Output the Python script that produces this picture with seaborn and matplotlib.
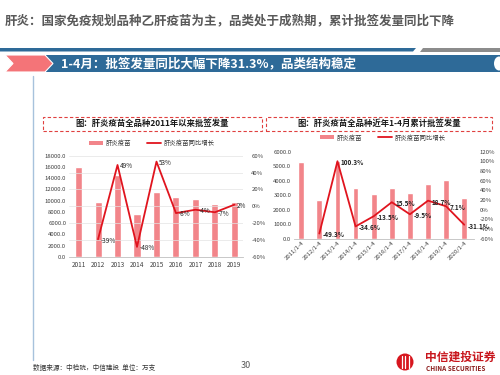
import matplotlib
matplotlib.use("Agg")
import matplotlib.pyplot as plt
import matplotlib.patches as mpatches
from matplotlib.lines import Line2D
from matplotlib.ticker import FuncFormatter, MultipleLocator
import seaborn as sns

sns.set_theme(style="white")
plt.rcParams['font.family'] = ['Noto Sans CJK SC', 'DejaVu Sans']
plt.rcParams['axes.unicode_minus'] = False

# ---------------- data ----------------
years = ["2011", "2012", "2013", "2014", "2015", "2016", "2017", "2018", "2019"]
annual_doses = [16000, 9760, 14540, 7560, 11570, 10640, 10220, 9500, 9690]
annual_growth_years = ["2012", "2013", "2014", "2015", "2016", "2017", "2018", "2019"]
annual_growth = [-39, 49, -48, 53, -8, -4, -7, 2]

periods = ["2011/1-4", "2012/1-4", "2013/1-4", "2014/1-4", "2015/1-4",
           "2016/1-4", "2017/1-4", "2018/1-4", "2019/1-4", "2020/1-4"]
period_doses = [5300, 2690, 5390, 3525, 3050, 3520, 3185, 3780, 4050, 2790]
period_growth_labels = ["2012/1-4", "2013/1-4", "2014/1-4", "2015/1-4",
                        "2016/1-4", "2017/1-4", "2018/1-4", "2019/1-4", "2020/1-4"]
period_growth = [-49.3, 100.3, -34.6, -13.5, 15.5, -9.5, 18.7, 7.1, -31.1]

page_title = "肝炎：国家免疫规划品种乙肝疫苗为主，品类处于成熟期，累计批签发量同比下降"
banner_text = "1-4月：批签发量同比大幅下降31.3%，品类结构稳定"
left_title = "图：肝炎疫苗全品种2011年以来批签发量"
right_title = "图：肝炎疫苗全品种近年1-4月累计批签发量"
bar_name = "肝炎疫苗"
left_line_name = "肝炎疫苗同比增长"
right_line_name = "肝炎疫苗同比增长"
source_text = "数据来源：中检院，中信建投  单位：万支"
page_no = "30"

# ---------------- style ----------------
BAR = "#F2858A"
LINE = "#E0141E"
BLUE = "#2E6A98"
PINK = "#F47478"
W, H = 500, 375

fig = plt.figure(figsize=(5, 3.75), dpi=100)
fig.patch.set_facecolor("white")


def fx(x):
    return x / W


def fy(y):
    return 1 - y / H


def poly(points, color, **kw):
    p = mpatches.Polygon([(fx(x), fy(y)) for x, y in points], closed=True,
                         transform=fig.transFigure, facecolor=color,
                         edgecolor=kw.pop("edgecolor", "none"), **kw)
    fig.patches.append(p)
    return p


# header
fig.text(fx(5), fy(21), page_title, fontsize=9.0, color="#595959",
         fontweight="bold", va="center", ha="left")
poly([(0, 48), (416, 48), (413, 51.5), (0, 51.5)], BLUE)
poly([(423, 48), (500, 48), (500, 51.5), (420, 51.5)], "#8C8C8C")
poly([(46, 55), (500, 55), (500, 72), (46, 72)], BLUE)
fig.patches.append(mpatches.Ellipse((fx(499), fy(63.5)), 10 / W, 14 / H,
                                    transform=fig.transFigure, facecolor="white",
                                    edgecolor="none"))
poly([(5, 55), (45, 55), (53, 63.5), (45, 72), (5, 72), (13, 63.5)], PINK,
     edgecolor="white", linewidth=0.8)
fig.text(fx(61), fy(63.8), banner_text, fontsize=9, color="white",
         fontweight="bold", va="center", ha="left")

# left vertical guide line
fig.add_artist(Line2D([fx(33), fx(33)], [fy(76), fy(360)], transform=fig.transFigure,
                      color="#A7C2DC", linewidth=1.0))

# chart title boxes
for (x0, x1, txt) in [(43, 262, left_title), (266, 492, right_title)]:
    fig.patches.append(mpatches.Rectangle((fx(x0), fy(130.5)), (x1 - x0) / W, 14 / H,
                                          transform=fig.transFigure, facecolor="white",
                                          edgecolor="#E0403F", linewidth=0.8,
                                          linestyle=(0, (3, 2))))
    fig.text(fx((x0 + x1) / 2), fy(123.5), txt, fontsize=6, fontweight="bold",
             color="#1a1a1a", ha="center", va="center")

# ---------------- left chart ----------------
ax1 = fig.add_axes([fx(69), fy(257), (243 - 69) / W, (257 - 155.7) / H])
sns.barplot(x=years, y=annual_doses, ax=ax1, color=BAR, width=0.36, saturation=1)
ax1.set_ylim(0, 18000)
ax1.yaxis.set_major_locator(MultipleLocator(2000))
ax1.yaxis.set_major_formatter(FuncFormatter(lambda v, p: f"{v:.1f}"))
ax2 = ax1.twinx()
sns.pointplot(x=annual_growth_years, y=annual_growth, order=years, ax=ax2,
              color=LINE, markers="", linestyles="-", linewidth=1.3, errorbar=None)
ax2.set_ylim(-60, 60)
ax2.yaxis.set_major_locator(MultipleLocator(20))
ax2.yaxis.set_major_formatter(FuncFormatter(lambda v, p: f"{v:.0f}%"))
ax2.grid(axis="y", color="#E3E3E3", linewidth=0.5)
ax1.set_xlim(-0.49, 8.44)
for lab, v in zip(annual_growth_years, annual_growth):
    i = years.index(lab)
    ax2.annotate(f"{v:.0f}%", (i, v), xytext=(2, -1), textcoords="offset points",
                 fontsize=4.6, color="#222222", ha="left", va="center")

# ---------------- right chart ----------------
ax3 = fig.add_axes([fx(294), fy(238.7), 180 / W, (238.7 - 151.7) / H])
sns.barplot(x=periods, y=period_doses, ax=ax3, color=BAR, width=0.32, saturation=1)
ax3.set_ylim(0, 6000)
ax3.yaxis.set_major_locator(MultipleLocator(1000))
ax3.yaxis.set_major_formatter(FuncFormatter(lambda v, p: f"{v:.1f}"))
ax4 = ax3.twinx()
sns.pointplot(x=period_growth_labels, y=period_growth, order=periods, ax=ax4,
              color=LINE, markers="", linestyles="-", linewidth=1.3, errorbar=None)
ax4.set_ylim(-60, 120)
ax4.yaxis.set_major_locator(MultipleLocator(20))
ax4.yaxis.set_major_formatter(FuncFormatter(lambda v, p: f"{v:.0f}%"))
ax3.set_xlim(-0.4, 9.54)
for lab, v in zip(period_growth_labels, period_growth):
    i = periods.index(lab)
    ax4.annotate(f"{v:.1f}%", (i, v), xytext=(2.5, -1), textcoords="offset points",
                 fontsize=4.6, color="#222222", ha="left", va="center",
                 fontweight="bold")

# common axes styling
for ax in (ax1, ax2, ax3, ax4):
    ax.set_xlabel("")
    ax.set_ylabel("")
    for s in ax.spines.values():
        s.set_visible(False)
    ax.tick_params(axis="both", length=0, labelsize=4.3, colors="#404040", pad=2)
    ax.patch.set_visible(False)
for ax in (ax1, ax3):
    ax.spines["bottom"].set_visible(True)
    ax.spines["bottom"].set_color("#BFBFBF")
    ax.spines["bottom"].set_linewidth(0.6)
ax1.tick_params(axis="x", labelsize=4.6, pad=3)
ax3.tick_params(axis="x", labelsize=4.3, pad=1)
for t in ax3.get_xticklabels():
    t.set_rotation(45)
    t.set_ha("right")
    t.set_rotation_mode("anchor")
ax2.tick_params(axis="y", pad=6)
ax4.tick_params(axis="y", pad=4)

# legends
for cx, cy, lname in [(152, 143, left_line_name), (383, 137.5, right_line_name)]:
    handles = [mpatches.Patch(facecolor=BAR, edgecolor="none", label=bar_name),
               Line2D([0], [0], color=LINE, linewidth=1.3, label=lname)]
    fig.legend(handles=handles, loc="center", bbox_to_anchor=(fx(cx), fy(cy)),
               ncol=2, frameon=False, fontsize=4.6, handlelength=2.2,
               handleheight=0.5, columnspacing=2.5, handletextpad=0.4,
               labelcolor="#333333")

# footer
fig.text(fx(33), fy(368), source_text, fontsize=4.8, color="#333333",
         ha="left", va="center")
fig.text(fx(246), fy(365), page_no, fontsize=6.5, color="#595959",
         ha="center", va="center")
fig.patches.append(mpatches.Ellipse((fx(405), fy(362)), 17 / W, 17 / H,
                                    transform=fig.transFigure, facecolor="#D7161E",
                                    edgecolor="none"))
for dx in (-3.5, 0, 3.5):
    fig.add_artist(Line2D([fx(405 + dx), fx(405 + dx)], [fy(356), fy(368)],
                          transform=fig.transFigure, color="white", linewidth=0.9))
fig.text(fx(425), fy(357), "中信建投证券", fontsize=8.5, color="#C8161D",
         fontweight="bold", ha="left", va="center")
fig.text(fx(426), fy(368.5), "CHINA SECURITIES", fontsize=4.6, color="#8B1A1A",
         fontweight="bold", ha="left", va="center")

fig.savefig("out.png", dpi=100, facecolor="white")
